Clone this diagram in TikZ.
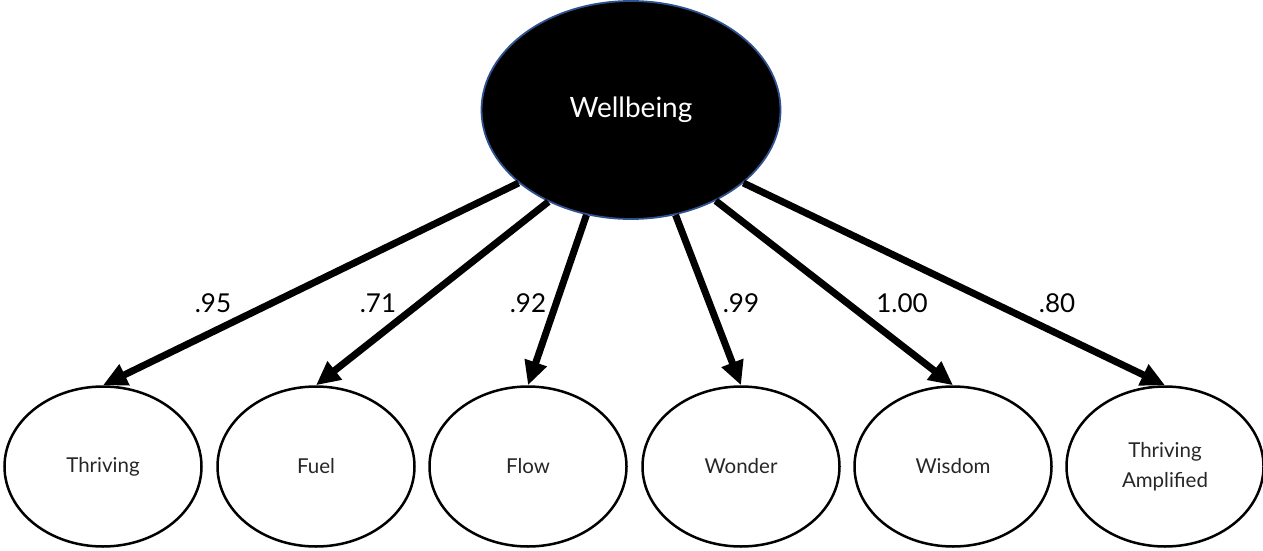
\documentclass[tikz,border=0pt]{standalone}
\usepackage{fontspec}
\setmainfont{Lato}
\usetikzlibrary{shapes.geometric,arrows.meta}
\definecolor{wb}{HTML}{2F528F}
\tikzset{lat/.style={ellipse,draw=black,line width=2.5pt,minimum width=197pt,minimum height=160pt,font=\fontsize{20.5}{30}\selectfont,text=black!85,align=center}}
\tikzset{ld/.style={-{Triangle[length=24pt,width=22pt]},line width=7pt}}
\tikzset{coef/.style={font=\fontsize{26}{30}\selectfont}}

\begin{document}
\begin{tikzpicture}[x=1pt,y=1pt]
        \useasboundingbox (0,0) rectangle (1263,550);
        \node[ellipse,fill=black,draw=wb,line width=1.8pt,minimum width=299pt,minimum height=218pt,text=white,font=\fontsize{28}{32}\selectfont] (wb) at (631,440) {Wellbeing};

        \node[lat] (thr) at (103,83.5) {Thriving};
        \node[lat] (fuel) at (316,83.5) {Fuel};
        \node[lat] (flow) at (528,83.5) {Flow};
        \node[lat] (won) at (741,83.5) {Wonder};
        \node[lat] (wis) at (953,83.5) {Wisdom};
        \node[lat] (amp) at (1165,83.5) {Thriving\\Amplified};

        \draw[ld] (wb.213) -- (thr.north);
        \draw[ld] (wb.228) -- (fuel.north);
        \draw[ld] (wb.247) -- (flow.north);
        \draw[ld] (wb.293) -- (won.north);
        \draw[ld] (wb.313) -- (wis.north);
        \draw[ld] (wb.327) -- (amp.north);

        \node[coef] (c1) at (213,247) {.95};
        \node[coef] (c2) at (378,247) {.71};
        \node[coef] (c3) at (528,247) {.92};
        \node[coef] (c4) at (741,247) {.99};
        \node[coef] (c5) at (902,247) {1.00};
        \node[coef] (c6) at (1057,247) {.80};
    \end{tikzpicture}
\end{document}
